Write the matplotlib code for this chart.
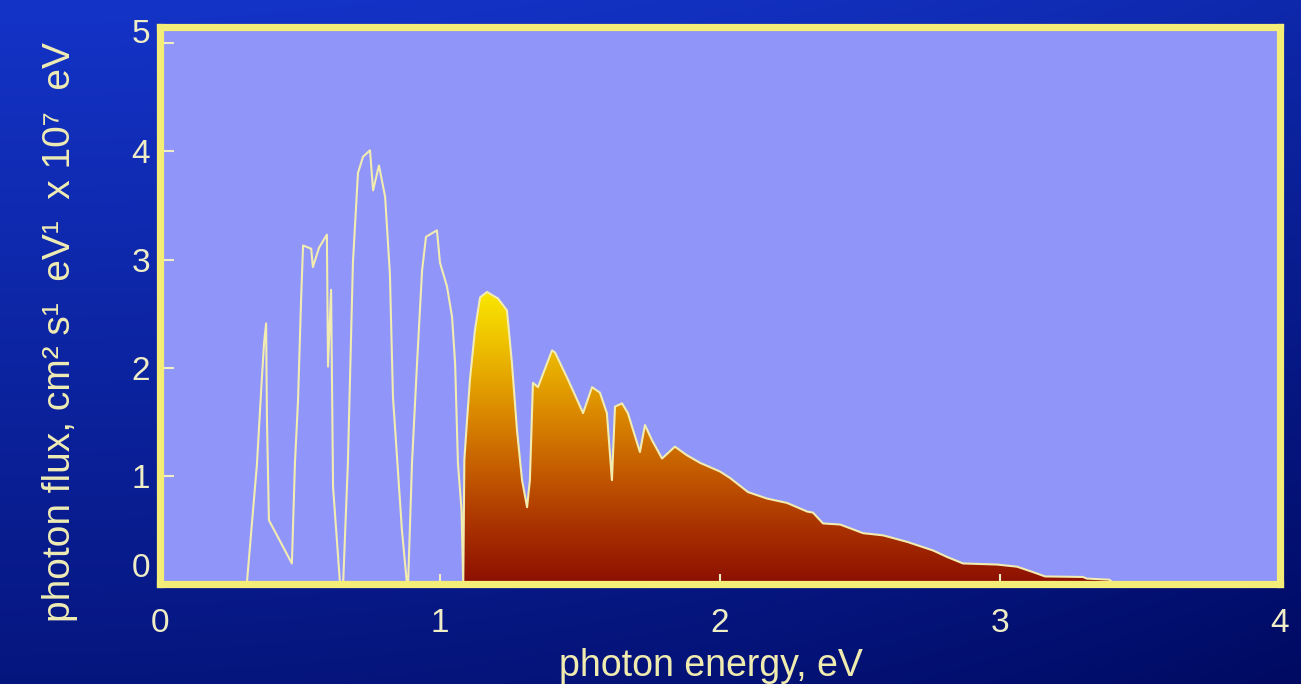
import numpy as np
import matplotlib
matplotlib.use("Agg")
import matplotlib.pyplot as plt
from matplotlib.colors import LinearSegmentedColormap
from matplotlib.patches import Polygon

plt.rcParams['font.family'] = ['Liberation Sans', 'DejaVu Sans']

# Solar photon flux spectrum (AM1.5-like), units of 1e7 per cm^2 s eV
energy_ev = [
    0.300, 0.310, 0.346, 0.364, 0.372, 0.379, 0.382, 0.389, 0.471, 0.482,
    0.493, 0.504, 0.511, 0.540, 0.546, 0.568, 0.596, 0.600, 0.611, 0.618,
    0.643, 0.654, 0.671, 0.689, 0.707, 0.725, 0.750, 0.761, 0.782, 0.804,
    0.821, 0.832, 0.864, 0.882, 0.886, 0.900, 0.918, 0.936, 0.950, 0.989,
    1.000, 1.025, 1.043, 1.054, 1.064, 1.077, 1.083, 1.087, 1.096, 1.107,
    1.125, 1.143, 1.168, 1.207, 1.239, 1.257, 1.275, 1.293, 1.311, 1.321,
    1.332, 1.350, 1.400, 1.411, 1.457, 1.511, 1.543, 1.571, 1.596, 1.614,
    1.625, 1.650, 1.671, 1.690, 1.714, 1.732, 1.757, 1.793, 1.839, 1.882,
    1.929, 2.000, 2.036, 2.100, 2.168, 2.239, 2.311, 2.332, 2.368, 2.429,
    2.511, 2.582, 2.668, 2.761, 2.811, 2.868, 2.989, 3.061, 3.118, 3.161,
    3.296, 3.310, 3.390, 3.410,
]
flux = [
    0.00, 0.00, 1.10, 1.91, 2.24, 2.41, 1.52, 0.59, 0.19, 1.12,
    1.70, 2.64, 3.13, 3.10, 2.93, 3.11, 3.23, 2.01, 2.72, 0.90,
    0.00, 0.00, 1.12, 2.97, 3.80, 3.95, 4.01, 3.64, 3.87, 3.58,
    2.87, 1.73, 0.50, 0.00, 0.00, 1.12, 2.04, 2.90, 3.21, 3.27,
    2.97, 2.75, 2.47, 2.04, 1.12, 0.68, 0.00, 1.15, 1.49, 1.89,
    2.35, 2.65, 2.70, 2.64, 2.53, 2.04, 1.42, 0.96, 0.71, 0.96,
    1.86, 1.82, 2.16, 2.14, 1.89, 1.58, 1.82, 1.77, 1.58, 0.96,
    1.64, 1.67, 1.58, 1.42, 1.22, 1.47, 1.33, 1.16, 1.27, 1.19,
    1.12, 1.04, 0.98, 0.85, 0.79, 0.75, 0.67, 0.66, 0.56, 0.55,
    0.47, 0.45, 0.39, 0.31, 0.25, 0.19, 0.18, 0.16, 0.11, 0.07,
    0.065, 0.05, 0.04, 0.00,
]
silicon_gap_ev = 1.08

x_ticks = [0, 1, 2, 3, 4]
y_ticks = [0, 1, 2, 3, 4, 5]
x_label = "photon energy, eV"
y_label = "photon flux, cm\u00b2 s\u00b9  eV\u00b9  x 10\u2077  eV"

W, H = 1301, 684
fig = plt.figure(figsize=(W / 100, H / 100), dpi=100)

# deep blue slide backdrop
bg = fig.add_axes([0, 0, 1, 1], zorder=-10)
yy, xx = np.mgrid[0:1:240j, 0:1:400j]
t = np.clip(0.72 * yy + 0.28 * xx ** 2, 0, 1)
c_top = np.array([20, 52, 200]) / 255
c_bot = np.array([0, 10, 98]) / 255
bg.imshow(c_top + (c_bot - c_top) * t[..., None], extent=[0, 1, 0, 1],
          aspect='auto', origin='upper', interpolation='bilinear')
bg.set_axis_off()

ax = fig.add_axes([160 / W, 1 - 584 / H, 1120 / W, 557 / H])
ax.set_facecolor('#9095fa')

e = np.asarray(energy_ev)
f = np.asarray(flux)

# photons above the silicon band gap: gradient-filled area
mask = e >= silicon_gap_ev
ef, ff = e[mask], f[mask]
verts = [(ef[0], 0)] + list(zip(ef, ff)) + [(ef[-1], 0)]
clip = Polygon(verts, closed=True, facecolor='none', edgecolor='none')
ax.add_patch(clip)
heat = LinearSegmentedColormap.from_list('heat', [
    (0.00, '#8c0f00'), (0.185, '#a83000'), (0.37, '#c25800'),
    (0.555, '#d88200'), (0.74, '#e8ae00'), (0.90, '#f3d200'),
    (1.00, '#fae600')])
grad = np.linspace(0, 1, 256)[:, None]
im = ax.imshow(grad, cmap=heat, origin='lower', aspect='auto',
               extent=[ef[0], ef[-1], 0, ff.max()], zorder=1.5,
               interpolation='bilinear')
im.set_clip_path(clip)

ax.plot(e, f, color='#f2ecb0', lw=1.5, zorder=2)

ax.set_xlim(0, 4)
ax.set_ylim(0, 5.15)
ax.set_xticks(x_ticks)
ax.set_xticklabels([str(v) for v in x_ticks])
ax.set_yticks(y_ticks)
ax.set_yticklabels([str(v) for v in y_ticks])

for s in ax.spines.values():
    s.set_color('#f4ee78')
    s.set_linewidth(5.2)
    s.set_zorder(3)

ax.tick_params(axis='both', direction='in', colors='#efedc6',
               labelsize=24, width=1.5)
ax.tick_params(axis='x', length=7, pad=17)
ax.tick_params(axis='y', length=10, pad=7)
ylabels = ax.get_yticklabels()
ylabels[0].set_va('bottom')
ylabels[-1].set_va('baseline')

ax.set_xlabel(x_label, fontsize=27, color='#f0ecb0')
ax.xaxis.set_label_coords((711 - 160) / 1120, -(648 - 584) / 557)
ax.set_ylabel(y_label, fontsize=28, color='#f0ecb4')
ax.yaxis.set_label_coords((78 - 160) / 1120, (584 - 332) / 557)

fig.savefig('out.png', dpi=100)
